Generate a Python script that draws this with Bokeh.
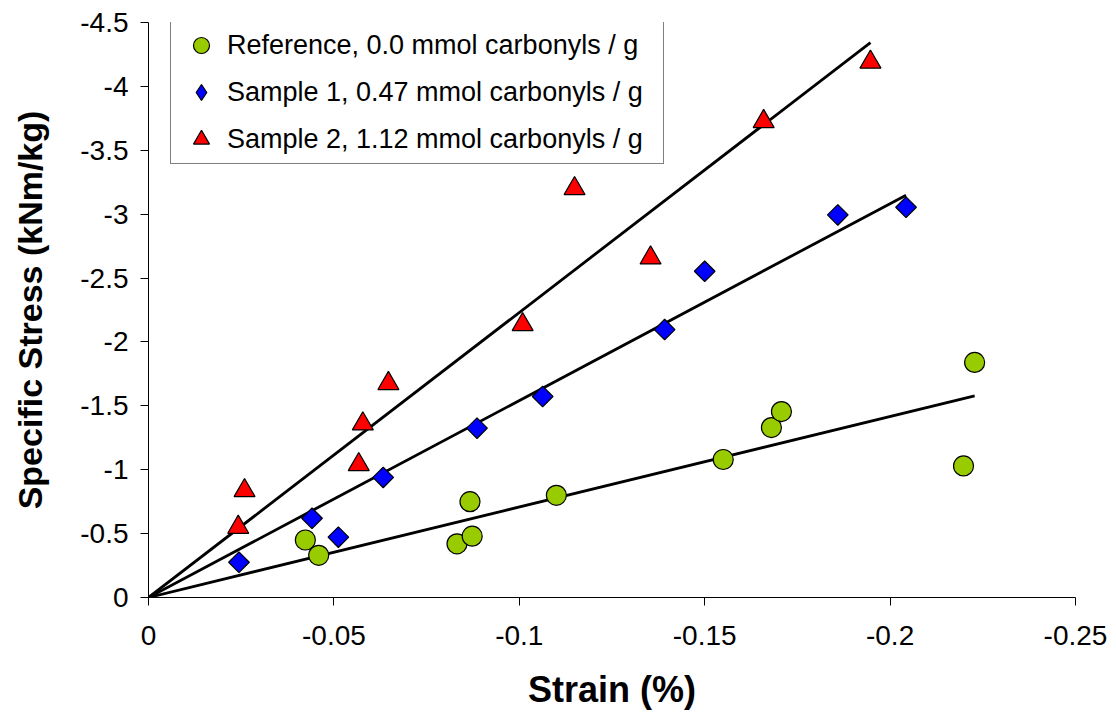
import numpy as np
from bokeh.plotting import figure
from bokeh.models import Range1d, FixedTicker, Legend, LegendItem
from bokeh.embed import file_html
from bokeh.resources import INLINE

# ---- data ----
ref_strain = [-0.0423, -0.0459, -0.0832, -0.0867, -0.0873, -0.1100, -0.1550, -0.1680, -0.1707, -0.2198, -0.2228]
ref_stress = [-0.45, -0.33, -0.42, -0.75, -0.48, -0.80, -1.08, -1.33, -1.455, -1.03, -1.84]

s1_strain = [-0.0244, -0.0441, -0.0512, -0.0633, -0.0886, -0.1063, -0.1392, -0.1500, -0.1859, -0.2043]
s1_stress = [-0.276, -0.62, -0.472, -0.94, -1.325, -1.573, -2.097, -2.553, -2.994, -3.054]

s2_strain = [-0.0242, -0.0259, -0.0567, -0.0578, -0.0647, -0.1009, -0.1149, -0.1354, -0.1659, -0.1947]
s2_stress = [-0.55, -0.837, -1.04, -1.359, -1.675, -2.136, -3.20, -2.658, -3.725, -4.19]

series_labels = ["Reference, 0.0 mmol carbonyls / g",
                 "Sample 1, 0.47 mmol carbonyls / g",
                 "Sample 2, 1.12 mmol carbonyls / g"]

x_ticks = [0, -0.05, -0.1, -0.15, -0.2, -0.25]
x_tick_labels = ["0", "-0.05", "-0.1", "-0.15", "-0.2", "-0.25"]
y_ticks = [0, -0.5, -1, -1.5, -2, -2.5, -3, -3.5, -4, -4.5]
y_tick_labels = ["0", "-0.5", "-1", "-1.5", "-2", "-2.5", "-3", "-3.5", "-4", "-4.5"]

FONT = "Liberation Sans"

p = figure(width=1116, height=720, output_backend="svg", toolbar_location=None,
           x_range=Range1d(0, -0.25), y_range=Range1d(0, -4.5),
           min_border_left=148, min_border_right=41, min_border_top=22, min_border_bottom=123)
p.outline_line_color = None
p.xgrid.visible = False
p.ygrid.visible = False
p.background_fill_color = "white"
p.border_fill_color = "white"


def fit_line(xs, ys):
    xs = np.asarray(xs, dtype=float)
    ys = np.asarray(ys, dtype=float)
    slope = (xs * ys).sum() / (xs * xs).sum()  # least squares through the origin
    xe = xs.min()
    return [0.0, xe], [0.0, slope * xe]


for xs, ys in [(s2_strain, s2_stress), (s1_strain, s1_stress), (ref_strain, ref_stress)]:
    lx, ly = fit_line(xs, ys)
    p.line(lx, ly, line_color="black", line_width=2.8)

# legend key for the diamonds (the legend does not rotate markers); sits hidden
# underneath the rotated squares below
r1_key = p.scatter(s1_strain, s1_stress, marker="diamond", size=18,
                   fill_color="#0000FF", line_color="black", line_width=1.2)
r0 = p.scatter(ref_strain, ref_stress, marker="circle", size=20,
               fill_color="#99CC00", line_color="black", line_width=1.2)
r1 = p.scatter(s1_strain, s1_stress, marker="square", angle=np.pi / 4, size=14.6,
               fill_color="#0000FF", line_color="black", line_width=1.2)
r2 = p.scatter(s2_strain, s2_stress, marker="triangle", size=21,
               fill_color="#FF0000", line_color="black", line_width=1.2)

for ax in (p.xaxis[0], p.yaxis[0]):
    ax.axis_line_color = "black"
    ax.axis_line_width = 1
    ax.major_tick_line_color = "black"
    ax.major_tick_out = 8
    ax.major_tick_in = 0
    ax.minor_tick_line_color = None
    ax.major_label_text_font = FONT
    ax.major_label_text_font_size = "28px"
    ax.major_label_text_color = "black"
    ax.axis_label_text_font = FONT
    ax.axis_label_text_font_style = "bold"
    ax.axis_label_text_color = "black"

p.xaxis.ticker = FixedTicker(ticks=x_ticks)
p.xaxis.major_label_overrides = {t: l for t, l in zip(x_ticks, x_tick_labels)}
p.yaxis.ticker = FixedTicker(ticks=y_ticks)
p.yaxis.major_label_overrides = {t: l for t, l in zip(y_ticks, y_tick_labels)}
p.xaxis.axis_label = "Strain (%)"
p.yaxis.axis_label = "Specific Stress (kNm/kg)"
p.xaxis.axis_label_text_font_size = "36px"
p.yaxis.axis_label_text_font_size = "34px"
p.xaxis.major_label_standoff = 20
p.yaxis.major_label_standoff = 12
p.xaxis.axis_label_standoff = 21
p.yaxis.axis_label_standoff = 28

legend = Legend(items=[LegendItem(label=series_labels[0], renderers=[r0]),
                       LegendItem(label=series_labels[1], renderers=[r1_key]),
                       LegendItem(label=series_labels[2], renderers=[r2])],
                location=(22, 433), orientation="vertical",
                border_line_color="black", border_line_width=1,
                background_fill_color="white", background_fill_alpha=1,
                label_text_font=FONT, label_text_font_size="27px", label_text_color="black",
                glyph_width=52, glyph_height=40, label_height=40,
                label_standoff=0, label_width=432,
                padding=4, spacing=7, margin=0)
p.add_layout(legend, "center")

open("out.html", "w").write(file_html(p, INLINE))
